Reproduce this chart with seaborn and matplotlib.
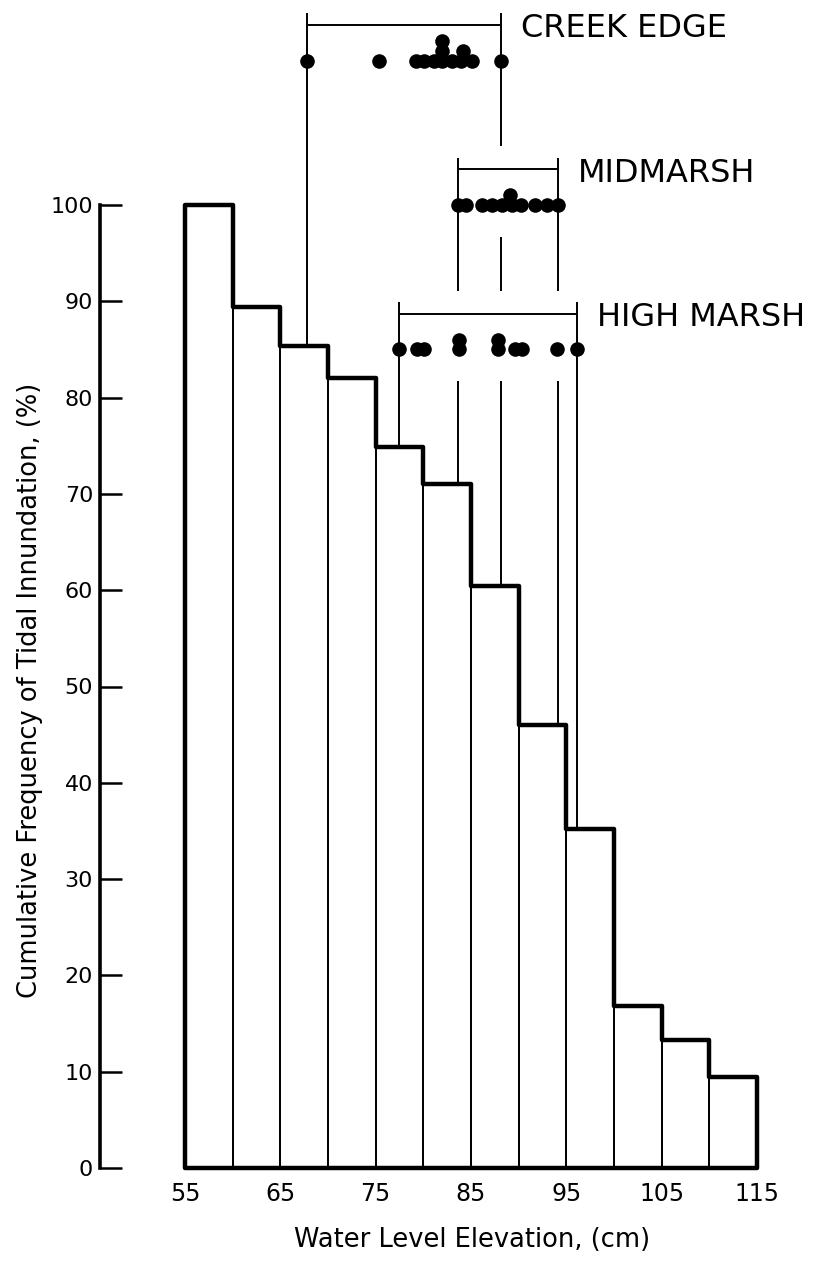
import numpy as np
import pandas as pd
import matplotlib
matplotlib.use("Agg")
import matplotlib.pyplot as plt
import seaborn as sns

# ---------------- data ----------------
bin_edges = [55, 60, 65, 70, 75, 80, 85, 90, 95, 100, 105, 110, 115]
cum_freq = [100, 89.4, 85.4, 82.0, 74.9, 71.0, 60.4, 46.0, 35.2, 16.8, 13.3, 9.4]

x_ticks = [55, 65, 75, 85, 95, 105, 115]
y_ticks = [0, 10, 20, 30, 40, 50, 60, 70, 80, 90, 100]

zone_names = ["CREEK EDGE", "MIDMARSH", "HIGH MARSH"]

creek_elev = [67.8, 75.3, 79.2, 80.1, 81.1, 82.0, 82.0, 82.0, 83.0, 84.0, 84.2, 85.1, 88.1]
creek_stack = [0, 0, 0, 0, 0, 0, 1, 2, 0, 0, 1, 0, 0]

mid_elev = [83.6, 84.5, 86.2, 87.2, 88.3, 89.3, 89.1, 90.2, 91.7, 93.0, 94.1]
mid_stack = [0, 0, 0, 0, 0, 0, 1, 0, 0, 0, 0]

high_elev = [77.5, 79.3, 80.1, 83.7, 83.7, 87.8, 87.8, 89.6, 90.4, 94.0, 96.1]
high_stack = [0, 0, 0, 0, 1, 0, 1, 0, 0, 0, 0]

# ---------------- layout constants ----------------
W, H = 825, 1262
row_levels = [115, 100, 85]     # vertical position of each zone's dot row
stack_step = 1.0
bracket_off = 3.7
top_off = 4.9

sns.set_style("ticks")
plt.rcParams['font.family'] = ['DejaVu Sans']
for k in ["text.color", "axes.labelcolor", "xtick.color", "ytick.color", "axes.edgecolor"]:
    plt.rcParams[k] = "black"

fig = plt.figure(figsize=(W / 100, H / 100), dpi=100)
ax_left, ax_bottom = 100, 1168            # pixel position of spine / zero line
ax = fig.add_axes([ax_left / W, (H - ax_bottom) / H, (W - ax_left) / W, ax_bottom / H])

px_per_cm = 572 / 60.0
px_per_pct = 9.63
xlim = (55 - (185 - ax_left) / px_per_cm, 55 + (W - 185) / px_per_cm)
ylim = (0, ax_bottom / px_per_pct)

centers = [(a + b) / 2 for a, b in zip(bin_edges[:-1], bin_edges[1:])]
hist_df = pd.DataFrame({"elev": centers, "freq": cum_freq})

n0 = len(ax.collections)
sns.histplot(data=hist_df, x="elev", weights="freq", bins=bin_edges,
             element="step", fill=True, color="black", facecolor="white",
             edgecolor="black", linewidth=3.2, alpha=1, ax=ax)
for c in ax.collections[n0:]:
    c.set_clip_on(False)
    c.set_joinstyle("round")
n1 = len(ax.patches)
sns.histplot(data=hist_df, x="elev", weights="freq", bins=bin_edges,
             element="bars", fill=False, color="black", linewidth=1.3, ax=ax)
for p in ax.patches[n1:]:
    p.set_clip_on(False)


def hist_height(x):
    i = int(np.searchsorted(bin_edges, x, side="right") - 1)
    i = min(max(i, 0), len(cum_freq) - 1)
    return cum_freq[i]


zones = [
    (creek_elev, creek_stack),
    (mid_elev, mid_stack),
    (high_elev, high_stack),
]

dot_rows = []
for (elev, stack), row, name in zip(zones, row_levels, zone_names):
    for e, s in zip(elev, stack):
        dot_rows.append({"elev": e, "y": row + s * stack_step, "zone": name})
dots_df = pd.DataFrame(dot_rows)

line_kw = dict(color="black", linewidth=1.4)

for zi, ((elev, stack), row, name) in enumerate(zip(zones, row_levels, zone_names)):
    lo, hi = min(elev), max(elev)
    ax.hlines(row + bracket_off, lo, hi, clip_on=False, **line_kw)
    for xe in (lo, hi):
        top = row + top_off
        bottom = hist_height(xe)
        # gaps where lower zone bands are crossed
        gaps = []
        for zj in range(zi + 1, len(zones)):
            e2 = zones[zj][0]
            if min(e2) <= xe <= max(e2):
                gaps.append((row_levels[zj] - 3.3, row_levels[zj] + top_off + 1.2))
        segs = []
        cur_top = top
        for g_lo, g_hi in sorted(gaps, key=lambda g: -g[1]):
            if g_hi < cur_top:
                segs.append((g_hi, cur_top))
            cur_top = min(cur_top, g_lo)
        segs.append((bottom, cur_top))
        for s_lo, s_hi in segs:
            ax.vlines(xe, s_lo, s_hi, clip_on=False, **line_kw)
    ax.text(hi + 2.1, row + bracket_off - 0.4, name, fontsize=23,
            va="center", ha="left", color="black", clip_on=False)

sns.scatterplot(data=dots_df, x="elev", y="y", color="black", s=110,
                linewidth=0, ax=ax, legend=False, clip_on=False, zorder=5)

ax.set_xlim(*xlim)
ax.set_ylim(*ylim)
ax.set_xticks(x_ticks)
ax.set_xticklabels([str(t) for t in x_ticks])
ax.set_yticks(y_ticks)
ax.set_yticklabels([str(t) for t in y_ticks])
ax.tick_params(axis="y", direction="in", length=16, width=1.8, labelsize=16, pad=5)
ax.tick_params(axis="x", length=0, labelsize=17, pad=10)
for side in ["top", "right", "bottom"]:
    ax.spines[side].set_visible(False)
ax.spines["left"].set_bounds(0, 100)
ax.spines["left"].set_linewidth(2.6)
ax.set_xlabel("")
ax.set_ylabel("")
ax.patch.set_alpha(0)

fig.text(30 / W, 1 - 690 / H, "Cumulative Frequency of Tidal Innundation, (%)",
         rotation=90, ha="center", va="center", fontsize=18.5)
fig.text(472 / W, 1 - 1240 / H, "Water Level Elevation, (cm)",
         ha="center", va="center", fontsize=18.5)

fig.savefig("out.png", dpi=100, facecolor="white")
